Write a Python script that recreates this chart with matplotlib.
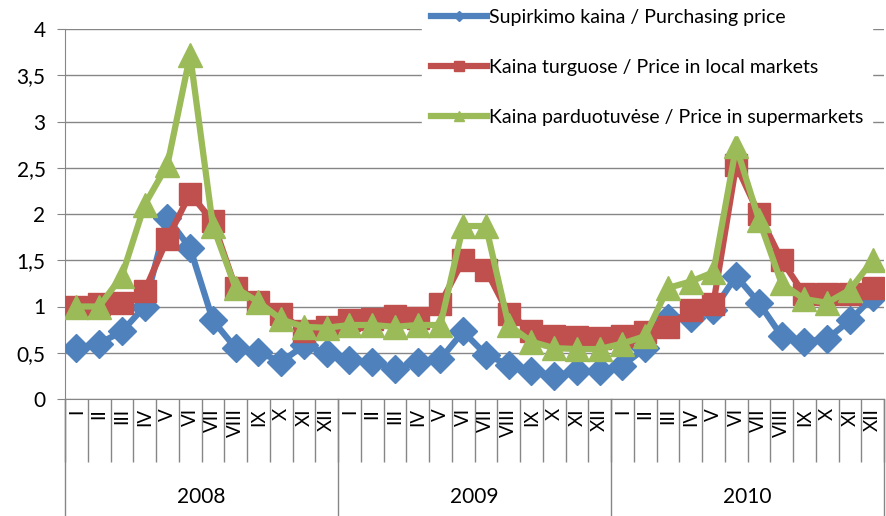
import numpy as np
import matplotlib
matplotlib.use('Agg')
import matplotlib.pyplot as plt
import matplotlib.transforms as mtransforms
from matplotlib.lines import Line2D
from matplotlib.ticker import FuncFormatter

# month labels and years
months = ['I', 'II', 'III', 'IV', 'V', 'VI', 'VII', 'VIII', 'IX', 'X', 'XI', 'XII']
years = ['2008', '2009', '2010']

# values, 2008 I .. 2010 XII
purchasing = [0.55, 0.60, 0.73, 1.00, 1.96, 1.63, 0.85, 0.55, 0.51, 0.40, 0.58, 0.50,
              0.42, 0.40, 0.32, 0.40, 0.43, 0.73, 0.48, 0.37, 0.30, 0.25, 0.30, 0.30,
              0.36, 0.55, 0.88, 0.88, 0.96, 1.33, 1.04, 0.68, 0.62, 0.65, 0.85, 1.10]
local_markets = [1.00, 1.03, 1.04, 1.17, 1.73, 2.22, 1.92, 1.20, 1.05, 0.92, 0.74, 0.78,
                 0.85, 0.87, 0.90, 0.88, 1.03, 1.50, 1.40, 0.92, 0.74, 0.68, 0.67, 0.66,
                 0.68, 0.72, 0.78, 0.96, 1.03, 2.53, 2.00, 1.50, 1.13, 1.14, 1.14, 1.20]
supermarkets = [1.00, 1.00, 1.33, 2.10, 2.53, 3.72, 1.87, 1.20, 1.05, 0.86, 0.78, 0.77,
                0.80, 0.80, 0.78, 0.80, 0.80, 1.87, 1.87, 0.80, 0.62, 0.55, 0.54, 0.54,
                0.60, 0.68, 1.20, 1.27, 1.37, 2.73, 1.94, 1.25, 1.08, 1.04, 1.18, 1.50]

labels = ['Supirkimo kaina / Purchasing price',
          'Kaina turguose / Price in local markets',
          'Kaina parduotuvėse / Price in supermarkets']

plt.rcParams['font.family'] = ['Lato', 'DejaVu Sans']

fig = plt.figure(figsize=(8.86, 5.16), dpi=100)
ax = fig.add_axes([65 / 886, 117 / 516, 819 / 886, 370 / 516])

x = np.arange(len(purchasing))
blue, red, green = '#4F81BD', '#C0504D', '#9BBB59'
ax.plot(x, purchasing, color=blue, lw=4.5, marker='D', ms=14, zorder=3)
ax.plot(x, local_markets, color=red, lw=4.5, marker='s', ms=16, zorder=4)
ax.plot(x, supermarkets, color=green, lw=4.5, marker='^', ms=17, zorder=5)

grid = '#868686'
ax.set_ylim(0, 4)
ax.set_xlim(-0.5, len(x) - 0.5)
ax.set_yticks(np.arange(0, 4.01, 0.5))
ax.yaxis.set_major_formatter(FuncFormatter(lambda v, p: ('%g' % v).replace('.', ',')))
ax.yaxis.grid(True, color=grid, lw=1)
ax.set_axisbelow(True)
for s in ['top', 'right']:
    ax.spines[s].set_visible(False)
ax.spines['left'].set_color(grid)
ax.spines['bottom'].set_color(grid)
ax.tick_params(axis='y', length=6, color=grid, labelsize=15, pad=8)

# month separators
ax.set_xticks(np.arange(-0.5, len(x), 1))
ax.tick_params(axis='x', length=45, color=grid, width=1, labelbottom=False)

trans = mtransforms.blended_transform_factory(ax.transData, ax.transAxes)
for i in x:
    ax.text(i, -0.025, months[i % 12], rotation=90, ha='center', va='top',
            fontsize=13.5, transform=trans)

# year separators and labels
for k in range(len(years) + 1):
    ax.plot([k * 12 - 0.5] * 2, [0, -0.32], color=grid, lw=1,
            transform=trans, clip_on=False)
for k, yr in enumerate(years):
    ax.text(k * 12 + 5.5, -0.265, yr, ha='center', va='center',
            fontsize=15, transform=trans)

handles = [Line2D([], [], color=blue, lw=4.5, marker='D', ms=5),
           Line2D([], [], color=red, lw=4.5, marker='s', ms=7),
           Line2D([], [], color=green, lw=4.5, marker='^', ms=7)]
leg = fig.legend(handles, labels, loc='upper left', bbox_to_anchor=(422 / 886, 1.0),
                 frameon=True, fontsize=14, handlelength=2.9, handletextpad=0.1,
                 labelspacing=1.7, borderpad=0.45, borderaxespad=0)
leg.get_frame().set_facecolor('white')
leg.get_frame().set_edgecolor('white')
leg.get_frame().set_alpha(1)

fig.savefig('out.png', dpi=100)
